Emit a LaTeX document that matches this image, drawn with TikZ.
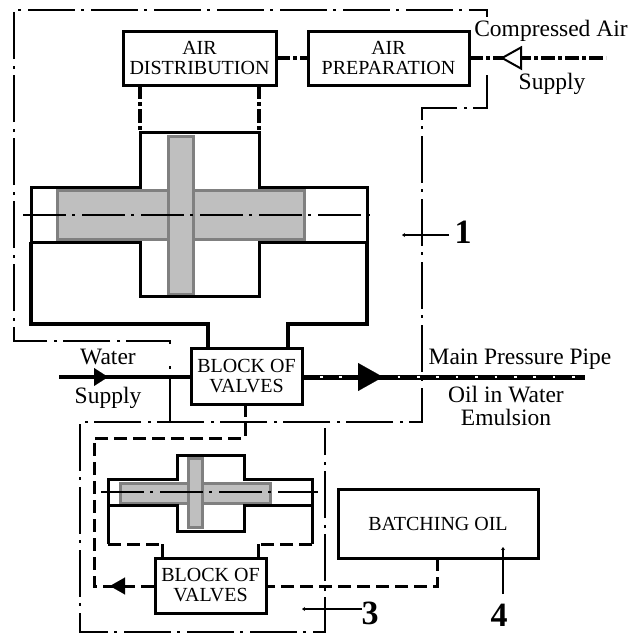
\documentclass[tikz,border=0pt]{standalone}
\usepackage{fontspec}
\setmainfont{Liberation Serif}
\usetikzlibrary{arrows.meta}

\begin{document}
\begin{tikzpicture}[x=1pt, y=-1pt]
\useasboundingbox (0,0) rectangle (630,633);
\tikzstyle{every node} = [inner sep=0pt, outer sep=0pt, align=center, font=\fontsize{23.5}{23}\selectfont]
\tikzstyle{box} = [draw, line width=3pt, fill=white, font=\fontsize{20}{20}\selectfont]
\tikzstyle{number} = [font=\fontsize{34}{34}\selectfont\bfseries]
\tikzstyle{border} = [line width=1.2pt, dash pattern=on 47pt off 6pt on 3pt off 7pt]
\tikzstyle{axis} = [line width=1.2pt, dash pattern=on 43pt off 6pt on 3pt off 7pt]
\tikzstyle{airline} = [line width=3.5pt, dash pattern=on 14pt off 3pt on 4pt off 3pt]
\tikzstyle{oilline} = [line width=3pt, dash pattern=on 13pt off 6pt]
\tikzstyle{wall} = [line width=3pt]
\tikzstyle{pipe} = [line width=4pt]
\tikzstyle{piston} = [draw=black!50, line width=3pt, fill=black!25]
\tikzstyle{leader} = [line width=1.2pt, -{Stealth[length=3pt,width=4pt]}]
% boxes
\node[box, minimum width=153pt, minimum height=54pt] (dist) at (199.5,58) {AIR\\DISTRIBUTION};
\node[box, minimum width=161pt, minimum height=54pt] (prep) at (388.5,58) {AIR\\PREPARATION};
\node[box, minimum width=111pt, minimum height=56pt] (blocka) at (246.5,376) {BLOCK OF\\VALVES};
\node[box, minimum width=111pt, minimum height=55pt] (blockb) at (210.5,585.5) {BLOCK OF\\VALVES};
\node[box, minimum width=200pt, minimum height=69pt] (batch) at (438,523.5) {BATCHING OIL};
% frames of the units
\draw[border] (170,422) -- (170,366);
\draw[border] (170,344) -- (170,341) -- (14,341) -- (14,10) -- (487,10) -- (487,17);
\draw[border] (487,75) -- (487,108) -- (422,108) -- (422,422) -- (80,422) -- (80,632) -- (325,632) -- (325,428);
% big cylinder
\draw[piston] (57,190) rectangle (304,239);
\draw[piston] (168,136) rectangle (193,294);
\draw[wall] (31,187) -- (140,187) -- (140,132) -- (259,132) -- (259,187) -- (367,187) -- (367,242)
	-- (259,242) -- (259,296) -- (140,296) -- (140,242) -- (31,242) -- cycle;
\draw[axis] (23,215) -- (376,215);
\coordinate (bigl) at (31,242);
\coordinate (bigr) at (367,242);
\draw[pipe] (bigl) -- (31,324) -- (208,324) -- (blocka.north -| 208,0);
\draw[pipe] (bigr) -- (367,324) -- (288,324) -- (blocka.north -| 288,0);
\draw[airline] (dist.south -| 140,0) -- (140,132);
\draw[airline] (dist.south -| 259,0) -- (259,132);
% small cylinder
\draw[piston] (120,483) rectangle (270,503);
\draw[piston] (188,458) rectangle (202,527);
\draw[wall] (108,479) -- (177,479) -- (177,455) -- (244,455) -- (244,479) -- (312,479) -- (312,505)
	-- (244,505) -- (244,531) -- (177,531) -- (177,505) -- (108,505) -- cycle;
\draw[axis] (101,492) -- (318,492);
\draw[wall] (108,505) -- (108,544);
\draw[wall] (312,505) -- (312,544);
\draw[oilline] (108,544) -- (162,544);
\draw[oilline] (312,544) -- (258,544);
\draw[wall] (162,544) -- (blockb.north -| 162,0);
\draw[wall] (258,544) -- (blockb.north -| 258,0);
% air
\coordinate (airend) at (606,58);
\coordinate (valve) at (524,58);
\draw[airline] (dist) -- (prep);
\draw[airline] (prep) -- (airend);
\draw[line width=2pt, -{Triangle[open, fill=white, length=22pt, width=24pt]}] (valve) -- (500,58);
\node (comp) at (551,31) {Compressed Air};
\node (airsup) at (552,84) {Supply};
% water and emulsion
\coordinate (waterin) at (59,377);
\coordinate (pipeout) at (585,377);
\draw[pipe] (waterin) -- (blocka.west |- waterin);
\draw[line width=0.1pt, -{Triangle[length=14pt, width=18pt]}] (94,377) -- (108,377);
\draw[pipe, line width=5pt] (blocka.east |- pipeout) -- (pipeout);
\draw[white, line width=2pt, dash pattern=on 2.5pt off 16.9pt] (320,377) -- (pipeout);
\draw[line width=0.1pt, -{Triangle[length=25pt, width=28pt]}] (358,377) -- (383,377);
\node (water) at (108,357) {Water};
\node (watersup) at (108,398) {Supply};
\node (main) at (520,359) {Main Pressure Pipe};
\node (emul) at (506,406) {Oil in Water\\Emulsion};
% batching oil
\coordinate (oila) at (245,438);
\coordinate (oilb) at (94,438);
\coordinate (oilc) at (94,586);
\coordinate (oild) at (437,586);
\draw[oilline] (blocka.south -| oila) -- (oila) -- (oilb) -- (oilc) -- (blockb.west |- oilc);
\draw[oilline] (batch.south -| oild) -- (oild) -- (blockb.east |- oild);
\draw[line width=0.1pt, -{Triangle[length=15pt, width=17pt]}] (125,586) -- (110,586);
% numbers
\node[number] (one) at (463,232) {1};
\node[number] (three) at (370,613) {3};
\node[number] (four) at (499,615) {4};
\draw[leader] (449,235) -- (402,235);
\draw[leader] (362,609) -- (302,609);
\draw[leader] (503,594) -- (503,547);
\end{tikzpicture}
\end{document}
